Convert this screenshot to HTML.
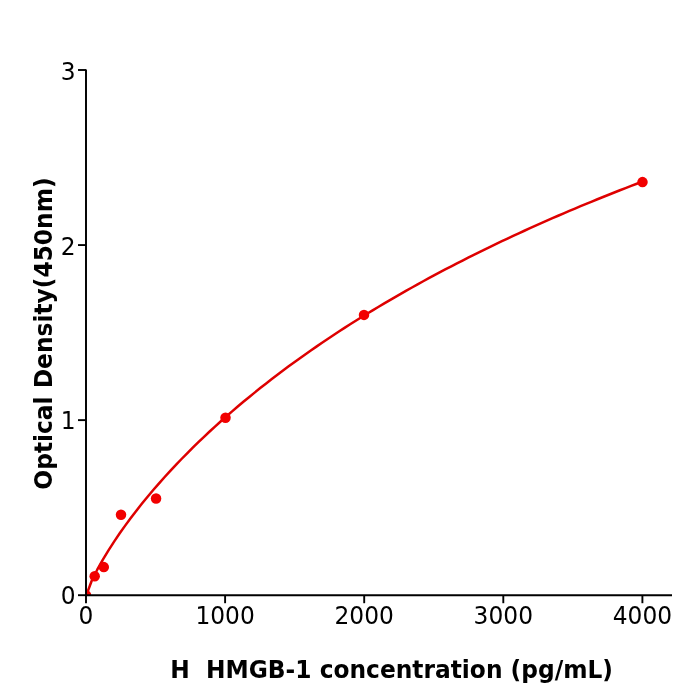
<!DOCTYPE html>
<html><head><meta charset="utf-8"><style>
html,body{margin:0;padding:0;background:#fff;}
svg{display:block;will-change:transform;}
text{font-family:"DejaVu Sans",sans-serif;}
</style></head><body>
<svg width="700" height="700" viewBox="0 0 700 700">
<rect width="700" height="700" fill="#fff"/>
<defs><clipPath id="ax"><rect x="86.0" y="0" width="614.0" height="595.2"/></clipPath></defs>
<g clip-path="url(#ax)">
<polyline points="86.00,596.01 91.62,580.97 97.24,569.70 102.86,559.64 108.48,550.34 114.10,541.60 119.72,533.30 125.34,525.38 130.96,517.77 136.58,510.43 142.20,503.34 147.82,496.48 153.44,489.81 159.06,483.33 164.68,477.02 170.30,470.87 175.92,464.87 181.54,459.00 187.16,453.27 192.78,447.66 198.40,442.17 204.02,436.79 209.64,431.51 215.26,426.34 220.88,421.26 226.51,416.27 232.13,411.38 237.75,406.56 243.37,401.83 248.99,397.18 254.61,392.60 260.23,388.10 265.85,383.67 271.47,379.30 277.09,375.00 282.71,370.77 288.33,366.60 293.95,362.49 299.57,358.43 305.19,354.43 310.81,350.49 316.43,346.60 322.05,342.77 327.67,338.98 333.29,335.24 338.91,331.55 344.53,327.91 350.15,324.31 355.77,320.76 361.39,317.25 367.01,313.79 372.63,310.36 378.25,306.98 383.87,303.63 389.49,300.33 395.11,297.06 400.73,293.83 406.35,290.63 411.97,287.48 417.59,284.35 423.21,281.26 428.83,278.20 434.45,275.18 440.07,272.19 445.69,269.22 451.31,266.29 456.93,263.39 462.55,260.52 468.17,257.68 473.79,254.87 479.41,252.08 485.03,249.32 490.65,246.59 496.27,243.89 501.89,241.21 507.52,238.56 513.14,235.93 518.76,233.33 524.38,230.75 530.00,228.19 535.62,225.66 541.24,223.16 546.86,220.67 552.48,218.21 558.10,215.77 563.72,213.35 569.34,210.95 574.96,208.57 580.58,206.22 586.20,203.88 591.82,201.56 597.44,199.27 603.06,196.99 608.68,194.73 614.30,192.49 619.92,190.27 625.54,188.07 631.16,185.89 636.78,183.72 642.40,181.57" fill="none" stroke="#de0000" stroke-width="2.5" stroke-linejoin="round" stroke-linecap="butt"/>
<g fill="#f20000">
<circle cx="86.00" cy="595.20" r="5.25"/>
<circle cx="94.70" cy="576.30" r="5.25"/>
<circle cx="103.80" cy="567.10" r="5.25"/>
<circle cx="121.00" cy="514.80" r="5.25"/>
<circle cx="156.07" cy="498.43" r="5.25"/>
<circle cx="225.50" cy="417.70" r="5.25"/>
<circle cx="364.00" cy="314.90" r="5.25"/>
<circle cx="642.50" cy="182.10" r="5.25"/>
</g>
</g>
<g stroke="#000" stroke-width="1.9">
<line x1="78.00" y1="595.20" x2="86.00" y2="595.20"/>
<line x1="78.00" y1="420.13" x2="86.00" y2="420.13"/>
<line x1="78.00" y1="245.07" x2="86.00" y2="245.07"/>
<line x1="78.00" y1="70.00" x2="86.00" y2="70.00"/>
<line x1="86.00" y1="595.20" x2="86.00" y2="603.20"/>
<line x1="225.10" y1="595.20" x2="225.10" y2="603.20"/>
<line x1="364.20" y1="595.20" x2="364.20" y2="603.20"/>
<line x1="503.30" y1="595.20" x2="503.30" y2="603.20"/>
<line x1="642.40" y1="595.20" x2="642.40" y2="603.20"/>
</g>
<g stroke="#000" stroke-width="1.95" stroke-linecap="butt" fill="none">
<line x1="86.0" y1="69.4" x2="86.0" y2="596.2"/>
<line x1="85.0" y1="595.2" x2="672" y2="595.2"/>
</g>
<g font-size="23.33" fill="#000">
<text transform="translate(75.70,603.80) scale(1,1.055)" text-anchor="end">0</text>
<text transform="translate(75.70,429.13) scale(1,1.055)" text-anchor="end">1</text>
<text transform="translate(75.70,254.72) scale(1,1.055)" text-anchor="end">2</text>
<text transform="translate(75.70,79.70) scale(1,1.055)" text-anchor="end">3</text>
<text transform="translate(86.00,623.80) scale(1,1.065)" text-anchor="middle">0</text>
<text transform="translate(225.10,623.80) scale(1,1.065)" text-anchor="middle">1000</text>
<text transform="translate(364.20,623.80) scale(1,1.065)" text-anchor="middle">2000</text>
<text transform="translate(503.30,623.80) scale(1,1.065)" text-anchor="middle">3000</text>
<text transform="translate(642.40,623.80) scale(1,1.065)" text-anchor="middle">4000</text>
</g>
<g font-size="23.33" font-weight="bold" fill="#000">
<text transform="translate(391.6,677.6) scale(1,1.035)" text-anchor="middle" xml:space="preserve" style="white-space:pre">H  HMGB-1 concentration (pg/mL)</text>
<text transform="translate(52.4,333.5) rotate(-90) scale(1,1.04)" text-anchor="middle">Optical Density(450nm)</text>
</g>
</svg>
</body></html>
